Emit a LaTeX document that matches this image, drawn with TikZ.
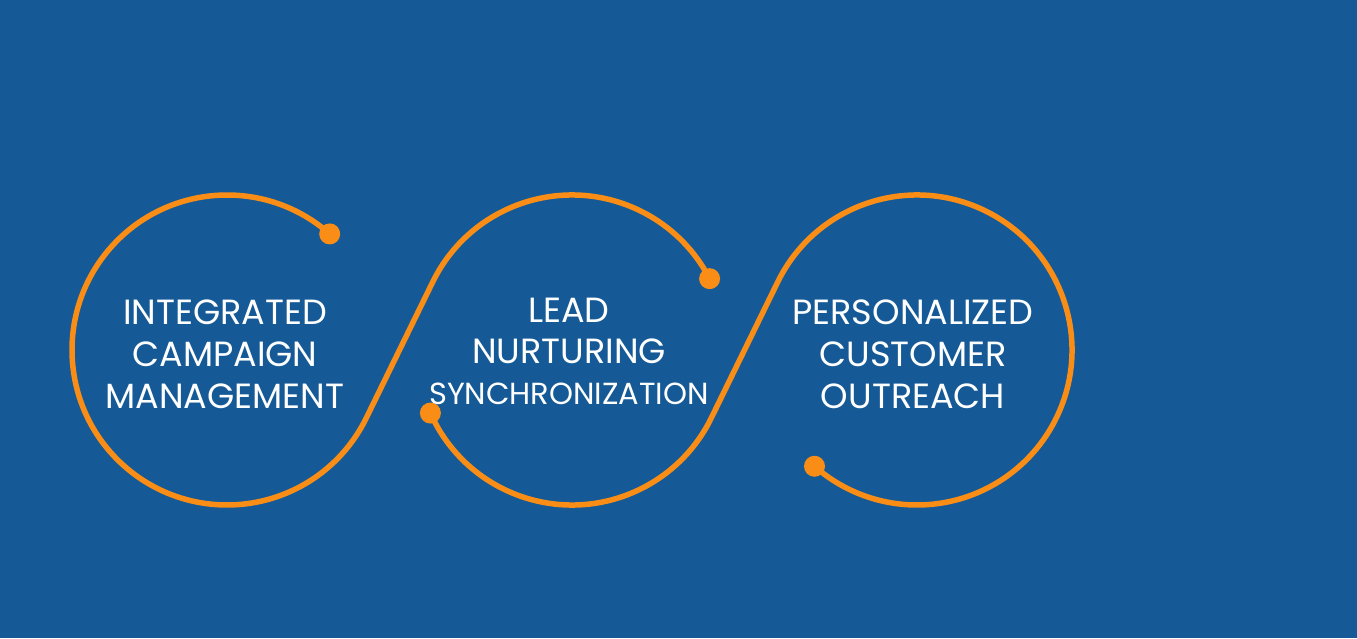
\documentclass[tikz,border=0pt]{standalone}
\usepackage{fontspec}
\setmainfont{Poppins}
\usetikzlibrary{calc}
\definecolor{bgblue}{RGB}{21,90,150}
\definecolor{orng}{RGB}{249,141,22}
\begin{document}
\begin{tikzpicture}[x=1pt,y=1pt,
  wire/.style={draw=orng,line width=5.5pt,line cap=round},
  dotc/.style={circle,fill=orng,inner sep=0pt,minimum size=21pt},
  lbl/.style={text=white,align=center,inner sep=0pt,font=\fontsize{35}{42}\selectfont}]
\fill[bgblue] (0,0) rectangle (1357,638);
\useasboundingbox (0,0) rectangle (1357,638);
\coordinate (c1) at (227,288);
\coordinate (c2) at (572,288);
\coordinate (c3) at (917,288);
\def\rr{155}
\node[dotc] (d1) at ($(c1)+(48.5:\rr)$) {};
\node[dotc] (d2) at ($(c2)+(27.4:\rr)$) {};
\node[dotc] (d3) at ($(c2)+(204:\rr)$) {};
\node[dotc] (d4) at ($(c3)+(228.6:\rr)$) {};
\draw[wire] (d1.center) arc[start angle=48.5,end angle=334,radius=\rr]
  -- ($(c2)+(154:\rr)$) arc[start angle=154,end angle=27.4,radius=\rr] -- (d2.center);
\draw[wire] (d3.center) arc[start angle=204,end angle=334,radius=\rr]
  -- ($(c3)+(154:\rr)$) arc[start angle=154,end angle=-131.4,radius=\rr] -- (d4.center);
\node[lbl] (t1) at (225,284) {INTEGRATED\\CAMPAIGN\\MANAGEMENT};
\node[lbl,font=\fontsize{35}{41}\selectfont] (t2) at (569,287) {LEAD\\NURTURING\\{\fontsize{30.5}{37}\selectfont SYNCHRONIZATION}};
\node[lbl] (t3) at (913,284) {PERSONALIZED\\CUSTOMER\\OUTREACH};
\end{tikzpicture}
\end{document}
